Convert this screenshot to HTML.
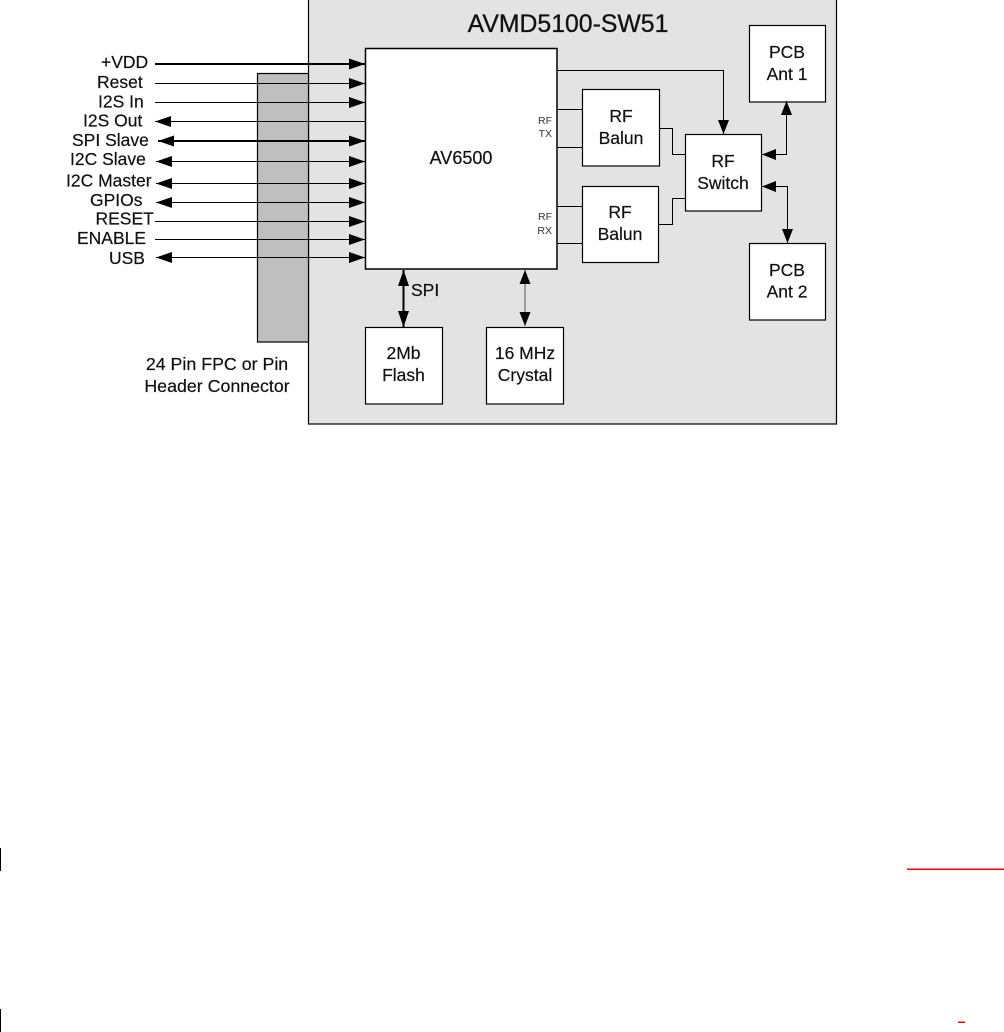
<!DOCTYPE html>
<html><head><meta charset="utf-8"><style>
html,body{margin:0;padding:0;background:#fff}
svg{display:block}
text{font-family:"Liberation Sans",sans-serif;fill:#111;stroke:#111;stroke-width:.2px}
.l{font-size:17.500px;text-anchor:start}
.c{font-size:17.500px;text-anchor:middle}
.s{font-size:10.500px;text-anchor:end;fill:#333;stroke:none}
</style></head><body>
<svg width="1004" height="1032" viewBox="0 0 1004 1032" xmlns="http://www.w3.org/2000/svg">
<defs>
<marker id="e" markerUnits="userSpaceOnUse" markerWidth="16" markerHeight="12" refX="16" refY="6" orient="auto"><path d="M0 .5L16 6L0 11.500z" fill="#000"/></marker>
<marker id="b" markerUnits="userSpaceOnUse" markerWidth="16" markerHeight="12" refX="0" refY="6" orient="auto"><path d="M16 .5L0 6L16 11.500z" fill="#000"/></marker>
<marker id="e2" markerUnits="userSpaceOnUse" markerWidth="14" markerHeight="12" refX="14" refY="6" orient="auto"><path d="M0 .5L14 6L0 11.500z" fill="#000"/></marker>
<marker id="b2" markerUnits="userSpaceOnUse" markerWidth="14" markerHeight="12" refX="0" refY="6" orient="auto"><path d="M14 .5L0 6L14 11.500z" fill="#000"/></marker>
</defs>
<rect x="308.500" y="-1" width="528" height="425" fill="#e3e3e3" stroke="#000" stroke-width="1.200"/>
<rect x="257.500" y="73.500" width="51" height="268.500" fill="#bfbfbf" stroke="#000" stroke-width="1.200"/>
<rect x="365.500" y="48.500" width="191.500" height="220.500" fill="#fff" stroke="#000" stroke-width="1.500"/>
<g fill="#fff" stroke="#000" stroke-width="1.200">
<rect x="582.500" y="89.500" width="77" height="76.500"/>
<rect x="582.500" y="186.500" width="76" height="76"/>
<rect x="685.500" y="134.500" width="76" height="76.500"/>
<rect x="749.500" y="25.500" width="76" height="76.500"/>
<rect x="749.500" y="243.500" width="76" height="76.500"/>
<rect x="365.500" y="327.500" width="77" height="76.500"/>
<rect x="486.500" y="327.500" width="77" height="76.500"/>
</g>
<g fill="none" stroke="#000" stroke-width="1">
<path d="M155 64H365" stroke-width="2" marker-end="url(#e)"/>
<path d="M155 83.500H365" marker-end="url(#e)"/>
<path d="M155 102.500H365" marker-end="url(#e)"/>
<path d="M155 121.500H365" marker-start="url(#b)"/>
<path d="M158 141H365" stroke-width="2" marker-start="url(#b)" marker-end="url(#e)"/>
<path d="M156 161.500H365" marker-start="url(#b)" marker-end="url(#e)"/>
<path d="M156 183.500H365" marker-start="url(#b)" marker-end="url(#e)"/>
<path d="M156 202.500H365" marker-start="url(#b)" marker-end="url(#e)"/>
<path d="M155 221.500H365" marker-end="url(#e)"/>
<path d="M155 239.500H365" marker-end="url(#e)"/>
<path d="M156 257.500H365" marker-start="url(#b)" marker-end="url(#e)"/>
<path d="M557 70.500H723.500V134" marker-end="url(#e2)"/>
<path d="M557 109.500H582M557 147.500H582M557 206.500H582M557 243.500H582"/>
<path d="M659 128.500H672.500V154.500H685M658 224.500H672.500V198.500H685"/>
<path d="M762 154.500H786.500V101" marker-start="url(#b2)" marker-end="url(#e2)"/>
<path d="M762 186.500H787.500V243" marker-start="url(#b2)" marker-end="url(#e2)"/>
<path d="M403.500 270V327" stroke-width="2" marker-start="url(#b)" marker-end="url(#e)"/>
<path d="M525 270V326" stroke="#555" marker-start="url(#b2)" marker-end="url(#e2)"/>
</g>
<text x="568" y="32" style="font-size:24.800px;text-anchor:middle;stroke-width:.3px">AVMD5100-SW51</text>
<text class="c" x="461" y="164" style="font-size:18px">AV6500</text>
<text class="l" x="101" y="68">+VDD</text>
<text class="l" x="97" y="88">Reset</text>
<text class="l" x="98" y="107.500">I2S In</text>
<text class="l" x="83" y="126.500">I2S Out</text>
<text class="l" x="72" y="146">SPI Slave</text>
<text class="l" x="70" y="165">I2C Slave</text>
<text class="l" x="66" y="186.500">I2C Master</text>
<text class="l" x="90" y="206">GPIOs</text>
<text class="l" x="95.500" y="224.500">RESET</text>
<text class="l" x="77" y="244">ENABLE</text>
<text class="l" x="109" y="264">USB</text>
<text class="c" x="217" y="370" style="font-size:17.800px">24 Pin FPC or Pin</text>
<text class="c" x="217" y="392" style="font-size:17.800px">Header Connector</text>
<text class="l" x="411" y="296" style="font-size:17.500px">SPI</text>
<text class="c" x="621" y="122">RF</text><text class="c" x="621" y="144">Balun</text>
<text class="c" x="620" y="218">RF</text><text class="c" x="620" y="240">Balun</text>
<text class="c" x="723" y="167">RF</text><text class="c" x="723" y="189">Switch</text>
<text class="c" x="787" y="58">PCB</text><text class="c" x="787" y="80">Ant 1</text>
<text class="c" x="787" y="276">PCB</text><text class="c" x="787" y="297.500">Ant 2</text>
<text class="c" x="403.500" y="359">2Mb</text><text class="c" x="403.500" y="381">Flash</text>
<text class="c" x="525" y="359">16 MHz</text><text class="c" x="525" y="381">Crystal</text>
<text class="s" x="552" y="124">RF</text><text class="s" x="552" y="137">TX</text>
<text class="s" x="552" y="220">RF</text><text class="s" x="552" y="234">RX</text>
<rect x="907" y="868.500" width="97" height="1.500" fill="#f00000"/>
<rect x="958" y="1021.500" width="7" height="1.500" fill="#f00000"/>
<rect x="0" y="848" width="1" height="23" fill="#000"/>
<rect x="0" y="1009" width="1" height="23" fill="#000"/>
</svg>
</body></html>
